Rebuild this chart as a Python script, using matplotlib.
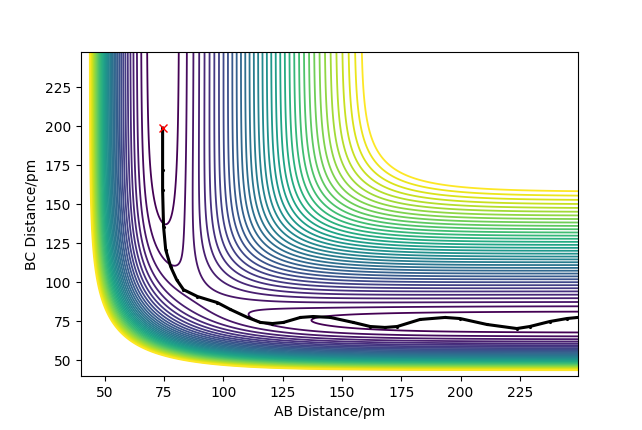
import numpy as np
import matplotlib
matplotlib.use('Agg')
import matplotlib.pyplot as plt

# LEPS parameters for H + H2 (kJ/mol, pm), Sato parameter k
D = 458.0
a = 0.0194
r0 = 74.1
k = 0.182

# contour levels (kJ/mol)
levels = np.arange(-450, -155, 8)

# trajectory (AB, BC) in pm
traj_ab = [74.4, 74.4, 74.4, 74.8, 75.7, 77.8, 80.3, 83.2, 89.1, 97.5, 103.0, 110.2,
           115.6, 120.7, 125.3, 132.5, 137.9, 145.1, 154.8, 161.9, 168.2, 173.3,
           182.9, 193.5, 199.8, 211.1, 223.7, 229.2, 237.6, 244.8, 249.4]
traj_bc = [198.8, 172.0, 159.0, 135.6, 120.9, 110.0, 101.7, 95.3, 90.9, 87.0, 82.6, 77.5,
           74.3, 73.6, 74.3, 77.5, 78.1, 77.5, 74.3, 71.7, 71.1, 71.7,
           76.2, 77.5, 76.8, 73.0, 70.4, 71.7, 74.9, 76.8, 77.5]


def coulomb_exchange(r):
    u = np.exp(-a * (r - r0))
    q = D / (4 * (1 + k)) * ((3 + k) * u**2 - (2 + 6 * k) * u)
    j = D / (4 * (1 + k)) * ((1 + 3 * k) * u**2 - (6 + 2 * k) * u)
    return q, j


def leps(rab, rbc):
    qab, jab = coulomb_exchange(rab)
    qbc, jbc = coulomb_exchange(rbc)
    qac, jac = coulomb_exchange(rab + rbc)
    return qab + qbc + qac - np.sqrt(jab**2 + jbc**2 + jac**2 - jab*jbc - jbc*jac - jab*jac)


x = np.linspace(40, 250, 700)
y = np.linspace(40, 250, 700)
X, Y = np.meshgrid(x, y)
V = leps(X, Y)

fig = plt.figure(figsize=(6.42, 4.30), dpi=100)
ax = fig.add_axes([81/642, 1 - 376/430, 497/642, 324/430])
ax.contour(X, Y, V, levels=levels, cmap='viridis', linewidths=1.3)
ax.plot(traj_ab, traj_bc, 'k.-', markersize=2.5, linewidth=2.2)
ax.plot(traj_ab[0], traj_bc[0], 'rx')
ax.set_xlim(40, 249.5)
ax.set_ylim(40, 247.5)
ax.set_xlabel('AB Distance/pm')
ax.set_ylabel('BC Distance/pm')
fig.savefig('out.png', dpi=100)
